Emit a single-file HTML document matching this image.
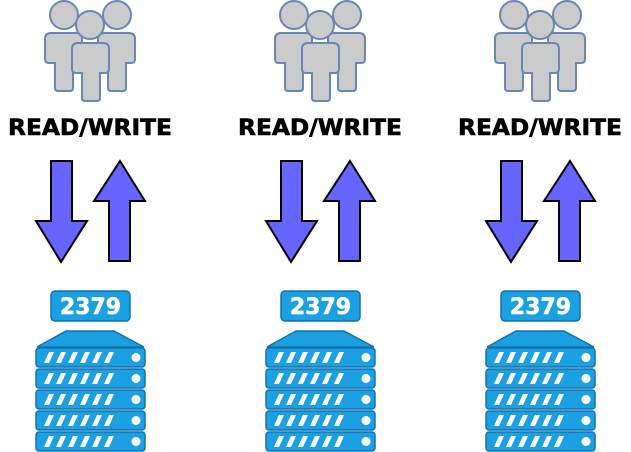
<!DOCTYPE html>
<html><head><meta charset="utf-8"><style>
html,body{margin:0;padding:0;background:#fff;width:631px;height:452px;overflow:hidden}
</style></head><body>
<svg width="631" height="452" viewBox="0 0 631 452" xmlns="http://www.w3.org/2000/svg">
<defs>
<g id="person">
  <path d="M6,0 H31 Q37,0 37,6 V26 Q37,30 33,30 H28 V55 Q28,58 25,58 H13 Q10,58 10,55 V30 H4 Q0,30 0,26 V6 Q0,0 6,0 Z" fill="#cbcbcb" stroke="#6a86b8" stroke-width="2"/>
</g>
<g id="unit">
  <rect x="0" y="0" width="109" height="19" rx="3" fill="#1ba1e2" stroke="#1670b0" stroke-width="1.5"/>
  <g fill="#fff">
    <polygon points="8,15 13,15 18,4 13,4"/>
    <polygon points="20,15 25,15 30,4 25,4"/>
    <polygon points="32,15 37,15 42,4 37,4"/>
    <polygon points="44,15 49,15 54,4 49,4"/>
    <polygon points="56,15 61,15 66,4 61,4"/>
    <polygon points="68,15 73,15 78,4 73,4"/>
    <circle cx="100" cy="9.5" r="4.5"/>
  </g>
</g>
<g id="col">
  <circle cx="64" cy="15" r="14" fill="#cbcbcb" stroke="#6a86b8" stroke-width="2"/>
  <circle cx="117" cy="15" r="14" fill="#cbcbcb" stroke="#6a86b8" stroke-width="2"/>
  <use href="#person" x="45" y="33"/>
  <use href="#person" x="98" y="33"/>
  <circle cx="90" cy="25" r="14" fill="#cbcbcb" stroke="#6a86b8" stroke-width="2"/>
  <use href="#person" x="72" y="43"/>
  <text x="90" y="135" text-anchor="middle" font-family="DejaVu Sans, Liberation Sans, sans-serif" font-weight="bold" font-size="22" stroke="#000" stroke-width="0.6" textLength="164" lengthAdjust="spacingAndGlyphs">READ/WRITE</text>
  <polygon points="51,161 72,161 72,221 87,221 61,262 36,221 51,221" fill="#6666ff" stroke="#000" stroke-width="2"/>
  <polygon points="120,161 145,201 130,201 130,261 109,261 109,201 94,201" fill="#6666ff" stroke="#000" stroke-width="2"/>
  <rect x="51" y="291" width="79" height="30" rx="4" fill="#1ba1e2" stroke="#1670b0" stroke-width="1.5"/>
  <text x="90.5" y="314" text-anchor="middle" font-family="DejaVu Sans, Liberation Sans, sans-serif" font-weight="bold" font-size="22" fill="#fff" stroke="#fff" stroke-width="0.5">2379</text>
  <polygon points="66,331 114,331 144,347 37,347" fill="#1ba1e2" stroke="#1670b0" stroke-width="1.5"/>
  <use href="#unit" x="36" y="348"/>
  <use href="#unit" x="36" y="369"/>
  <use href="#unit" x="36" y="390"/>
  <use href="#unit" x="36" y="411"/>
  <use href="#unit" x="36" y="432"/>
</g>
</defs>
<use href="#col" x="0" y="0"/>
<use href="#col" x="230" y="0"/>
<use href="#col" x="450" y="0"/>
</svg>
</body></html>
